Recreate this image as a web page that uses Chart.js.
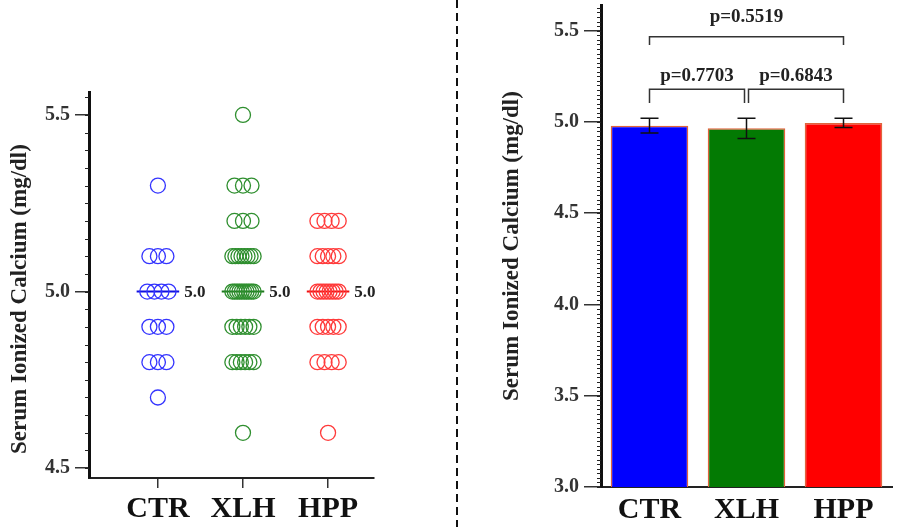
<!DOCTYPE html>
<html>
<head>
<meta charset="utf-8">
<script src="https://cdn.jsdelivr.net/npm/chart.js@4.4.0/dist/chart.umd.min.js"></script>
<style>
  html, body { margin: 0; padding: 0; background: #fff; }
  #wrap { position: relative; width: 900px; height: 527px; }
  .panel { position: absolute; top: 0; left: 0; width: 900px; height: 527px; }
  #divider {
    position: absolute; left: 456px; top: 0; width: 2px; height: 527px;
    background: repeating-linear-gradient(to bottom, #111 0 8px, transparent 8px 13px);
  }
</style>
</head>
<body>
<div id="wrap">
  <div class="panel"><canvas id="dotChart"></canvas></div>
  <div class="panel"><canvas id="barChart"></canvas></div>
  <div id="divider"></div>
</div>
<script>
// Data
const groups = ['CTR', 'XLH', 'HPP'];
const ctrValues = [5.3, 5.1, 5.1, 5.1, 5.0, 5.0, 5.0, 5.0, 4.9, 4.9, 4.9, 4.8, 4.8, 4.8, 4.7];
const xlhValues = [5.5, 5.3, 5.3, 5.3, 5.2, 5.2, 5.2,
    5.1, 5.1, 5.1, 5.1, 5.1, 5.1, 5.1, 5.1,
    5.0, 5.0, 5.0, 5.0, 5.0, 5.0, 5.0, 5.0, 5.0, 5.0,
    4.9, 4.9, 4.9, 4.9, 4.9, 4.9, 4.8, 4.8, 4.8, 4.8, 4.8, 4.8, 4.6];
const hppValues = [5.2, 5.2, 5.2, 5.2, 5.1, 5.1, 5.1, 5.1, 5.1,
    5.0, 5.0, 5.0, 5.0, 5.0, 5.0, 5.0, 5.0,
    4.9, 4.9, 4.9, 4.9, 4.9, 4.8, 4.8, 4.8, 4.8, 4.6];
const dotTicks = [4.5, 5.0, 5.5];

const barMeans = [4.98, 4.965, 4.995];
const barErrors = [0.04, 0.055, 0.025];
const barTicks = [3.0, 3.5, 4.0, 4.5, 5.0, 5.5];
const pLabels = ['p=0.5519', 'p=0.7703', 'p=0.6843'];
const pPairs = [[0, 2], [0, 1], [1, 2]];

// Styles / layout
const FONT = "'Liberation Serif', 'Times New Roman', serif";
const Y_TITLE = 'Serum Ionized Calcium (mg/dl)';
const dotColors = ['#3434ff', '#2f8f2f', '#ff3a3a'];
const medianColors = ['#1010e0', '#1d7a1d', '#f01010'];
const barColors = ['#0000ff', '#037a03', '#ff0000'];
const bracketTop = [5.467, 5.179, 5.179];
const bracketLeg = [0.045, 0.075, 0.075];
const bracketText = [5.575, 5.25, 5.25];

// Spread points with the same value side by side
function spreadPoints(values, idx) {
    const counts = {};
    values.forEach(v => { counts[v] = (counts[v] || 0) + 1; });
    const seen = {};
    return values.map(v => {
        const n = counts[v];
        const k = seen[v] = (seen[v] === undefined ? 0 : seen[v] + 1);
        const width = Math.min(0.1 * (n - 1), 0.25);
        const off = n > 1 ? (k / (n - 1) - 0.5) * width : 0;
        return { x: idx + off, y: v };
    });
}

function median(values) {
    const s = [...values].sort((a, b) => a - b);
    const m = Math.floor(s.length / 2);
    return s.length % 2 ? s[m] : (s[m - 1] + s[m]) / 2;
}

const allValues = [ctrValues, xlhValues, hppValues];
const medians = allValues.map(median);

const pointSets = allValues.map((vals, i) => ({
    type: 'scatter',
    data: spreadPoints(vals, i),
    pointRadius: 7.5,
    pointBorderWidth: 1.3,
    pointBackgroundColor: 'rgba(0,0,0,0)',
    pointBorderColor: dotColors[i],
    borderColor: dotColors[i],
    showLine: false
}));

const medianSets = medians.map((m, i) => ({
    type: 'line',
    data: [{ x: i - 0.25, y: m }, { x: i + 0.25, y: m }],
    borderColor: medianColors[i],
    borderWidth: 2,
    pointRadius: 0,
    showLine: true
}));

// Minor ticks on a y axis
function drawMinorTicks(chart, from, to, step, len) {
    const { ctx, chartArea, scales: { y } } = chart;
    ctx.save();
    ctx.strokeStyle = '#222';
    ctx.lineWidth = 1;
    const n = Math.round((to - from) / step);
    for (let k = 0; k <= n; k++) {
        const py = Math.round(y.getPixelForValue(from + k * step)) + 0.5;
        ctx.beginPath();
        ctx.moveTo(chartArea.left - len, py);
        ctx.lineTo(chartArea.left, py);
        ctx.stroke();
    }
    ctx.restore();
}

const dotExtras = {
    id: 'dotExtras',
    afterDatasetsDraw(chart) {
        const { ctx, chartArea, scales: { x, y } } = chart;
        ctx.save();
        ctx.font = 'bold 17px ' + FONT;
        ctx.fillStyle = '#222';
        ctx.textAlign = 'left';
        ctx.textBaseline = 'middle';
        medians.forEach((m, i) => {
            ctx.fillText(m.toFixed(1), x.getPixelForValue(i + 0.25) + 5, y.getPixelForValue(m) + 1);
        });
        // y title, sits a bit lower than the axis middle
        ctx.font = 'bold 23px ' + FONT;
        ctx.textAlign = 'center';
        ctx.translate(20, (chartArea.top + chartArea.bottom) / 2 + 14);
        ctx.rotate(-Math.PI / 2);
        ctx.fillText(Y_TITLE, 0, 0);
        ctx.restore();
        drawMinorTicks(chart, 4.5, 5.55, 0.05, 4);
    }
};

const barExtras = {
    id: 'barExtras',
    afterDatasetsDraw(chart) {
        const { ctx, scales: { y } } = chart;
        const bars = chart.getDatasetMeta(0).data;
        ctx.save();
        // error bars
        ctx.strokeStyle = '#111';
        ctx.lineWidth = 1.5;
        barMeans.forEach((m, i) => {
            const px = bars[i].x;
            const top = y.getPixelForValue(m + barErrors[i]);
            const bot = y.getPixelForValue(m - barErrors[i]);
            ctx.beginPath();
            ctx.moveTo(px, top); ctx.lineTo(px, bot);
            ctx.moveTo(px - 9, top); ctx.lineTo(px + 9, top);
            ctx.moveTo(px - 9, bot); ctx.lineTo(px + 9, bot);
            ctx.stroke();
        });
        // significance brackets
        ctx.strokeStyle = '#333';
        ctx.fillStyle = '#222';
        ctx.font = 'bold 19px ' + FONT;
        ctx.textAlign = 'center';
        ctx.textBaseline = 'middle';
        pPairs.forEach(([a, b], i) => {
            let xa = bars[a].x;
            let xb = bars[b].x;
            if (b - a === 1) {
                if (a === 1) xa += 2; else xb -= 2;
            }
            const yt = y.getPixelForValue(bracketTop[i]);
            const yl = y.getPixelForValue(bracketTop[i] - bracketLeg[i]);
            ctx.beginPath();
            ctx.moveTo(xa, yl); ctx.lineTo(xa, yt); ctx.lineTo(xb, yt); ctx.lineTo(xb, yl);
            ctx.stroke();
            ctx.fillText(pLabels[i], (xa + xb) / 2, y.getPixelForValue(bracketText[i]));
        });
        ctx.restore();
        drawMinorTicks(chart, 3.0, 5.625, 0.025, 4);
    }
};

// Left: dot plot
new Chart(document.getElementById('dotChart'), {
    type: 'scatter',
    data: { datasets: [...pointSets, ...medianSets] },
    options: {
        responsive: true,
        maintainAspectRatio: false,
        animation: false,
        events: [],
        layout: { padding: { left: 6, right: 526, top: 92, bottom: 0 } },
        plugins: { legend: { display: false }, tooltip: { enabled: false } },
        scales: {
            x: {
                type: 'linear',
                min: -0.81,
                max: 2.54,
                afterBuildTicks: s => { s.ticks = groups.map((g, i) => ({ value: i })); },
                afterFit: s => { s.height = 49; },
                grid: { drawOnChartArea: false, tickLength: 10, color: '#333', lineWidth: 1.5 },
                border: { display: true, color: '#222', width: 2 },
                ticks: {
                    callback: v => groups[v],
                    font: { family: FONT, size: 30, weight: 'bold' },
                    color: '#111',
                    padding: 3,
                    maxRotation: 0,
                    autoSkip: false
                }
            },
            y: {
                min: 4.472,
                max: 5.565,
                afterBuildTicks: s => { s.ticks = dotTicks.map(v => ({ value: v })); },
                afterFit: s => { s.width = 83; s.paddingTop = 0; s.paddingBottom = 0; },
                grid: { drawOnChartArea: false, tickLength: 14, color: '#333', lineWidth: 1.5 },
                border: { color: '#111', width: 3 },
                ticks: {
                    callback: v => v.toFixed(1),
                    font: { family: FONT, size: 20, weight: 'bold' },
                    color: '#333',
                    padding: 5
                }
            }
        }
    },
    plugins: [dotExtras]
});

// Right: bar chart
new Chart(document.getElementById('barChart'), {
    type: 'bar',
    data: {
        labels: groups,
        datasets: [{
            data: barMeans,
            backgroundColor: barColors,
            borderColor: '#e0643c',
            borderWidth: 1.5,
            categoryPercentage: 1,
            barPercentage: 0.8
        }]
    },
    options: {
        responsive: true,
        maintainAspectRatio: false,
        animation: false,
        events: [],
        layout: { padding: { left: 498, right: 8, top: 5, bottom: 0 } },
        plugins: { legend: { display: false }, tooltip: { enabled: false } },
        scales: {
            x: {
                afterFit: s => { s.height = 40; },
                grid: { display: false, drawTicks: false },
                border: { display: true, color: '#222', width: 2 },
                ticks: {
                    font: { family: FONT, size: 30, weight: 'bold' },
                    color: '#111',
                    padding: 5
                }
            },
            y: {
                min: 3.0,
                max: 5.641,
                afterBuildTicks: s => { s.ticks = barTicks.map(v => ({ value: v })); },
                afterFit: s => { s.width = 103; s.paddingTop = 0; s.paddingBottom = 0; },
                grid: { drawOnChartArea: false, tickLength: 17, color: '#333', lineWidth: 1.5 },
                border: { color: '#111', width: 3 },
                ticks: {
                    callback: v => v.toFixed(1),
                    font: { family: FONT, size: 20, weight: 'bold' },
                    color: '#333',
                    padding: 5
                },
                title: {
                    display: true,
                    text: Y_TITLE,
                    font: { family: FONT, size: 23, weight: 'bold' },
                    color: '#222',
                    padding: 0
                }
            }
        }
    },
    plugins: [barExtras]
});
</script>
</body>
</html>
